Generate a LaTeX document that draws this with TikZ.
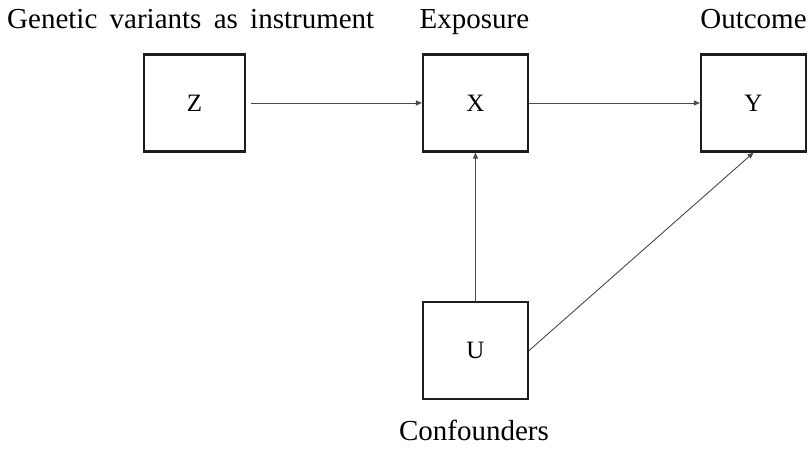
\documentclass[tikz,border=0pt]{standalone}
\usepackage{fontspec}
\setmainfont{Liberation Serif}
\usetikzlibrary{arrows.meta}
\definecolor{boxline}{HTML}{1E1E1E}
\definecolor{linkline}{HTML}{4A4A4A}
\begin{document}
\begin{tikzpicture}[x=1pt,y=-1pt,
  varbox/.style={draw=boxline, line width=2.2pt, minimum height=97pt,
    inner sep=0pt, font=\fontsize{25}{26}\selectfont},
  caption/.style={font=\fontsize{29}{30}\selectfont, inner sep=0pt},
  link/.style={draw=linkline, line width=0.9pt,
    -{Triangle[length=6pt,width=5pt]}}]
\useasboundingbox (0,0) rectangle (812,448);
% variable boxes
\node[varbox, minimum width=101pt] (Z) at (194.5,103) {Z};
\node[varbox, minimum width=105pt] (X) at (475.5,103) {X};
\node[varbox, minimum width=105pt] (Y) at (753.5,103) {Y};
\node[varbox, minimum width=105pt] (U) at (475.5,350.5) {U};
% captions
\node[caption, anchor=base west] (capZ) at (7,28)
  {\spaceskip=12.3pt plus 0pt minus 0pt Genetic variants as instrument};
\node[caption, anchor=base] (capX) at (474.5,28) {Exposure};
\node[caption, anchor=base] (capY) at (753.5,28) {Outcome};
\node[caption, anchor=base] (capU) at (474,440) {Confounders};
% causal links
\draw[link, shorten <=4.5pt] (Z) -- (X);
\draw[link] (X) -- (Y);
\draw[link] (U) -- (X);
\draw[link] (U.east) -- (Y.south);
\end{tikzpicture}
\end{document}
